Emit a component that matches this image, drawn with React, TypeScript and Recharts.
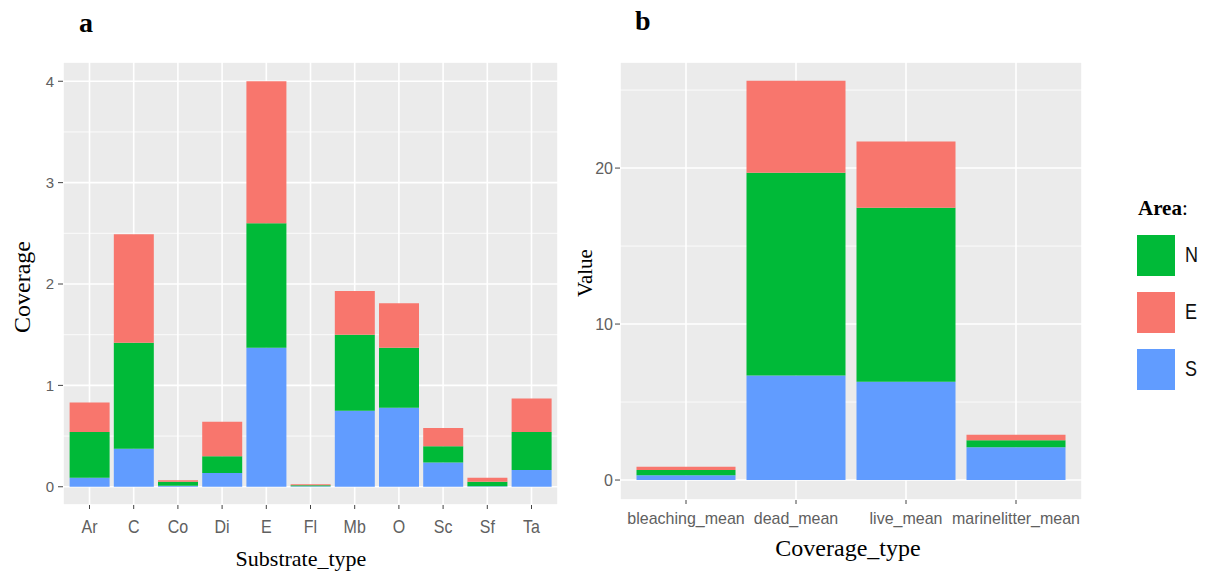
import React from 'react';
import { BarChart, Bar, XAxis, YAxis, CartesianGrid } from 'recharts';

// ---- Panel a data ----
const substrateTypes = ['Ar', 'C', 'Co', 'Di', 'E', 'Fl', 'Mb', 'O', 'Sc', 'Sf', 'Ta'];
const coverageS = [0.09, 0.375, 0.01, 0.135, 1.37, 0.005, 0.75, 0.78, 0.24, 0.005, 0.165];
const coverageN = [0.45, 1.045, 0.04, 0.165, 1.23, 0.01, 0.75, 0.59, 0.16, 0.045, 0.375];
const coverageE = [0.29, 1.07, 0.015, 0.34, 1.4, 0.01, 0.43, 0.44, 0.18, 0.04, 0.33];
const ticksA = [0, 1, 2, 3, 4];
const minorA = [0.5, 1.5, 2.5, 3.5];
const domainA: [number, number] = [-0.18, 4.19];

// ---- Panel b data ----
const coverageTypes = ['bleaching_mean', 'dead_mean', 'live_mean', 'marinelitter_mean'];
const valueS = [0.3, 6.7, 6.3, 2.1];
const valueN = [0.35, 13.0, 11.15, 0.45];
const valueE = [0.2, 5.9, 4.25, 0.35];
const ticksB = [0, 10, 20];
const minorB = [5, 15, 25];
const domainB: [number, number] = [-1.28, 26.8];

// ---- Legend ----
const legendNames = ['N', 'E', 'S'];
const colors: Record<string, string> = { N: '#00BA38', E: '#F8766D', S: '#619CFF' };

const dataA = substrateTypes.map((cat, i) => ({ cat, S: coverageS[i], N: coverageN[i], E: coverageE[i] }));
const dataB = coverageTypes.map((cat, i) => ({ cat, S: valueS[i], N: valueN[i], E: valueE[i] }));

const SANS = '"Liberation Sans", Arial, sans-serif';
const SERIF = '"Liberation Serif", "Times New Roman", serif';
const TICK_COLOR = '#606060';

const XTickA = (props: any) => {
  const { x, y, payload } = props;
  return (
    <g transform={`translate(${x},${y + 22}) scale(1,1.2)`}>
      <text x={0} y={0} textAnchor="middle" fontSize={16} fontFamily={SANS} fill={TICK_COLOR}>
        {payload.value}
      </text>
    </g>
  );
};

const XTickB = (props: any) => {
  const { x, y, payload } = props;
  return (
    <g transform={`translate(${x},${y + 18}) scale(1,1.05)`}>
      <text x={0} y={0} textAnchor="middle" fontSize={16} fontFamily={SANS} fill={TICK_COLOR}>
        {payload.value}
      </text>
    </g>
  );
};

const series = ['S', 'N', 'E'];

export default function App() {
  return (
    <div style={{ position: 'absolute', left: 0, top: 0, width: 1206, height: 573, background: '#fff', overflow: 'hidden' }}>
      <div style={{ position: 'absolute', left: 0, top: 0 }}>
        <BarChart
          width={590}
          height={573}
          data={dataA}
          margin={{ top: 62, right: 32, bottom: 28, left: 13 }}
          barCategoryGap="5%"
        >
          <CartesianGrid
            yAxisId="minor"
            fill="#EBEBEB"
            stroke="#FFFFFF"
            strokeWidth={0.8}
            vertical={false}
          />
          <CartesianGrid fill="none" stroke="#FFFFFF" strokeWidth={1.6} />
          <XAxis
            dataKey="cat"
            height={40}
            axisLine={false}
            tickLine={{ stroke: '#444' }}
            tickSize={4}
            padding={{ left: 4.4, right: 4.4 }}
            tick={<XTickA />}
            interval={0}
          />
          <YAxis
            width={50}
            domain={domainA}
            ticks={ticksA}
            allowDataOverflow
            axisLine={false}
            tickLine={{ stroke: '#444' }}
            tickSize={5}
            tickMargin={4}
            tick={{ fontSize: 15, fontFamily: SANS, fill: TICK_COLOR }}
          />
          <YAxis yAxisId="minor" hide domain={domainA} ticks={minorA} allowDataOverflow />
          {series.map((k) => (
            <Bar key={k} dataKey={k} stackId="a" fill={colors[k]} isAnimationActive={false} />
          ))}
        </BarChart>
      </div>

      <div style={{ position: 'absolute', left: 560, top: 0 }}>
        <BarChart
          width={540}
          height={573}
          data={dataB}
          margin={{ top: 62, right: 18, bottom: 33, left: 20 }}
          barCategoryGap="5%"
        >
          <CartesianGrid
            yAxisId="minor"
            fill="#EBEBEB"
            stroke="#FFFFFF"
            strokeWidth={0.8}
            vertical={false}
          />
          <CartesianGrid fill="none" stroke="#FFFFFF" strokeWidth={1.6} />
          <XAxis
            dataKey="cat"
            height={40}
            axisLine={false}
            tickLine={{ stroke: '#444' }}
            tickSize={4}
            padding={{ left: 11, right: 11 }}
            tick={<XTickB />}
            interval={0}
          />
          <YAxis
            width={40}
            domain={domainB}
            ticks={ticksB}
            allowDataOverflow
            axisLine={false}
            tickLine={{ stroke: '#444' }}
            tickSize={5}
            tickMargin={2}
            tick={{ fontSize: 16, fontFamily: SANS, fill: TICK_COLOR }}
          />
          <YAxis yAxisId="minor" hide domain={domainB} ticks={minorB} allowDataOverflow />
          {series.map((k) => (
            <Bar key={k} dataKey={k} stackId="b" fill={colors[k]} isAnimationActive={false} />
          ))}
        </BarChart>
      </div>

      <svg
        width={1206}
        height={573}
        style={{ position: 'absolute', left: 0, top: 0, pointerEvents: 'none' }}
      >
        <text x={79} y={32} fontSize={28} fontWeight="bold" fontFamily={SERIF} fill="#000">a</text>
        <text x={635} y={30} fontSize={28} fontWeight="bold" fontFamily={SERIF} fill="#000">b</text>
        <text
          x={0}
          y={0}
          transform="translate(30,287) rotate(-90)"
          textAnchor="middle"
          fontSize={24}
          fontFamily={SERIF}
          fill="#000"
        >
          Coverage
        </text>
        <text
          x={0}
          y={0}
          transform="translate(592,273) rotate(-90)"
          textAnchor="middle"
          fontSize={21}
          fontFamily={SERIF}
          fill="#000"
        >
          Value
        </text>
        <text x={301} y={566} textAnchor="middle" fontSize={22} fontFamily={SERIF} fill="#000">
          Substrate_type
        </text>
        <text x={848} y={556} textAnchor="middle" fontSize={24} fontFamily={SERIF} fill="#000">
          Coverage_type
        </text>
        <text x={1138} y={215} fontSize={21} fontFamily={SERIF} fill="#000">
          <tspan fontWeight="bold">Area</tspan>
          <tspan>:</tspan>
        </text>
        {legendNames.map((n, i) => {
          const top = 235 + i * 57;
          return (
            <g key={n}>
              <rect x={1137} y={top} width={38} height={41} fill={colors[n]} />
              <g transform={`translate(1185,${top + 27}) scale(1,1.25)`}>
                <text x={0} y={0} fontSize={18} fontFamily={SANS} fill="#111">
                  {n}
                </text>
              </g>
            </g>
          );
        })}
      </svg>
    </div>
  );
}
